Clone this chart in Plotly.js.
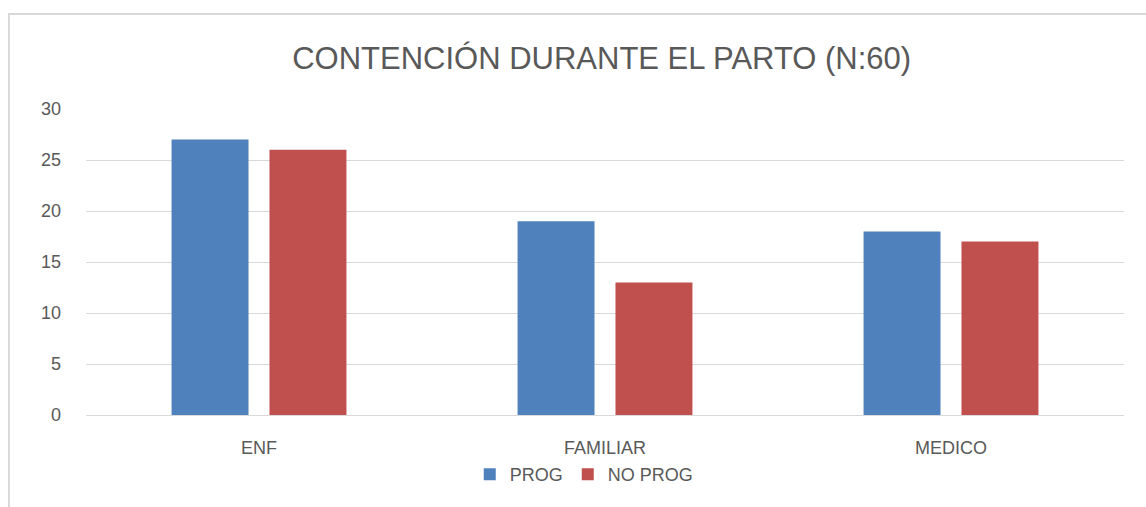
<!DOCTYPE html>
<html>
<head>
<meta charset="utf-8">
<script src="https://cdn.plot.ly/plotly-3.0.1.min.js"></script>
<style>
html,body{margin:0;padding:0;background:#fff;}
#frame{position:absolute;left:8px;top:13px;width:1200px;height:600px;border-left:2px solid #d9d9d9;border-top:2px solid #d9d9d9;}
#chart{position:absolute;left:0;top:0;width:1146px;height:507px;}
</style>
</head>
<body>
<div id="frame"></div>
<div id="chart"></div>
<script>
const categories = ["ENF", "FAMILIAR", "MEDICO"];
const progValues = [27, 19, 18];
const noProgValues = [26, 13, 17];
const seriesNames = ["PROG", "NO PROG"];
const yTicks = [0, 5, 10, 15, 20, 25, 30];

const txt = "#595959";
const fontFam = "Liberation Sans, Arial, sans-serif";

const data = [
  {type: "bar", name: seriesNames[0], x: categories, y: progValues, marker: {color: "#4F81BD"}, hoverinfo: "none"},
  {type: "bar", name: seriesNames[1], x: categories, y: noProgValues, marker: {color: "#C0504D"}, hoverinfo: "none"}
];

const layout = {
  width: 1146, height: 507,
  paper_bgcolor: "rgba(0,0,0,0)", plot_bgcolor: "rgba(0,0,0,0)",
  margin: {l: 86, r: 22, t: 109, b: 92},
  barmode: "group", bargap: 0.434, bargroupgap: 0.214,
  font: {family: fontFam, color: txt, size: 19},
  title: {text: "CONTENCIÓN DURANTE EL PARTO (N:60)", font: {size: 31, color: txt, family: fontFam}, x: 0.525, xanchor: "center", y: 0.885, yanchor: "middle"},
  xaxis: {showgrid: false, showline: false, ticks: "", tickfont: {size: 18, color: txt}, ticklabelstandoff: 20},
  yaxis: {range: [0, 30], tickvals: yTicks, showgrid: true, gridcolor: "#d9d9d9", gridwidth: 1, zeroline: true, zerolinecolor: "#d9d9d9", zerolinewidth: 1, showline: false, ticks: "", tickfont: {size: 18, color: txt}, ticklabelstandoff: 24},
  showlegend: true,
  legend: {orientation: "h", x: 0.48, xanchor: "center", y: -0.195, yanchor: "middle", font: {size: 18, color: txt}, itemwidth: 30, traceorder: "normal"}
};

Plotly.newPlot("chart", data, layout, {displayModeBar: false, staticPlot: true});
</script>
</body>
</html>
